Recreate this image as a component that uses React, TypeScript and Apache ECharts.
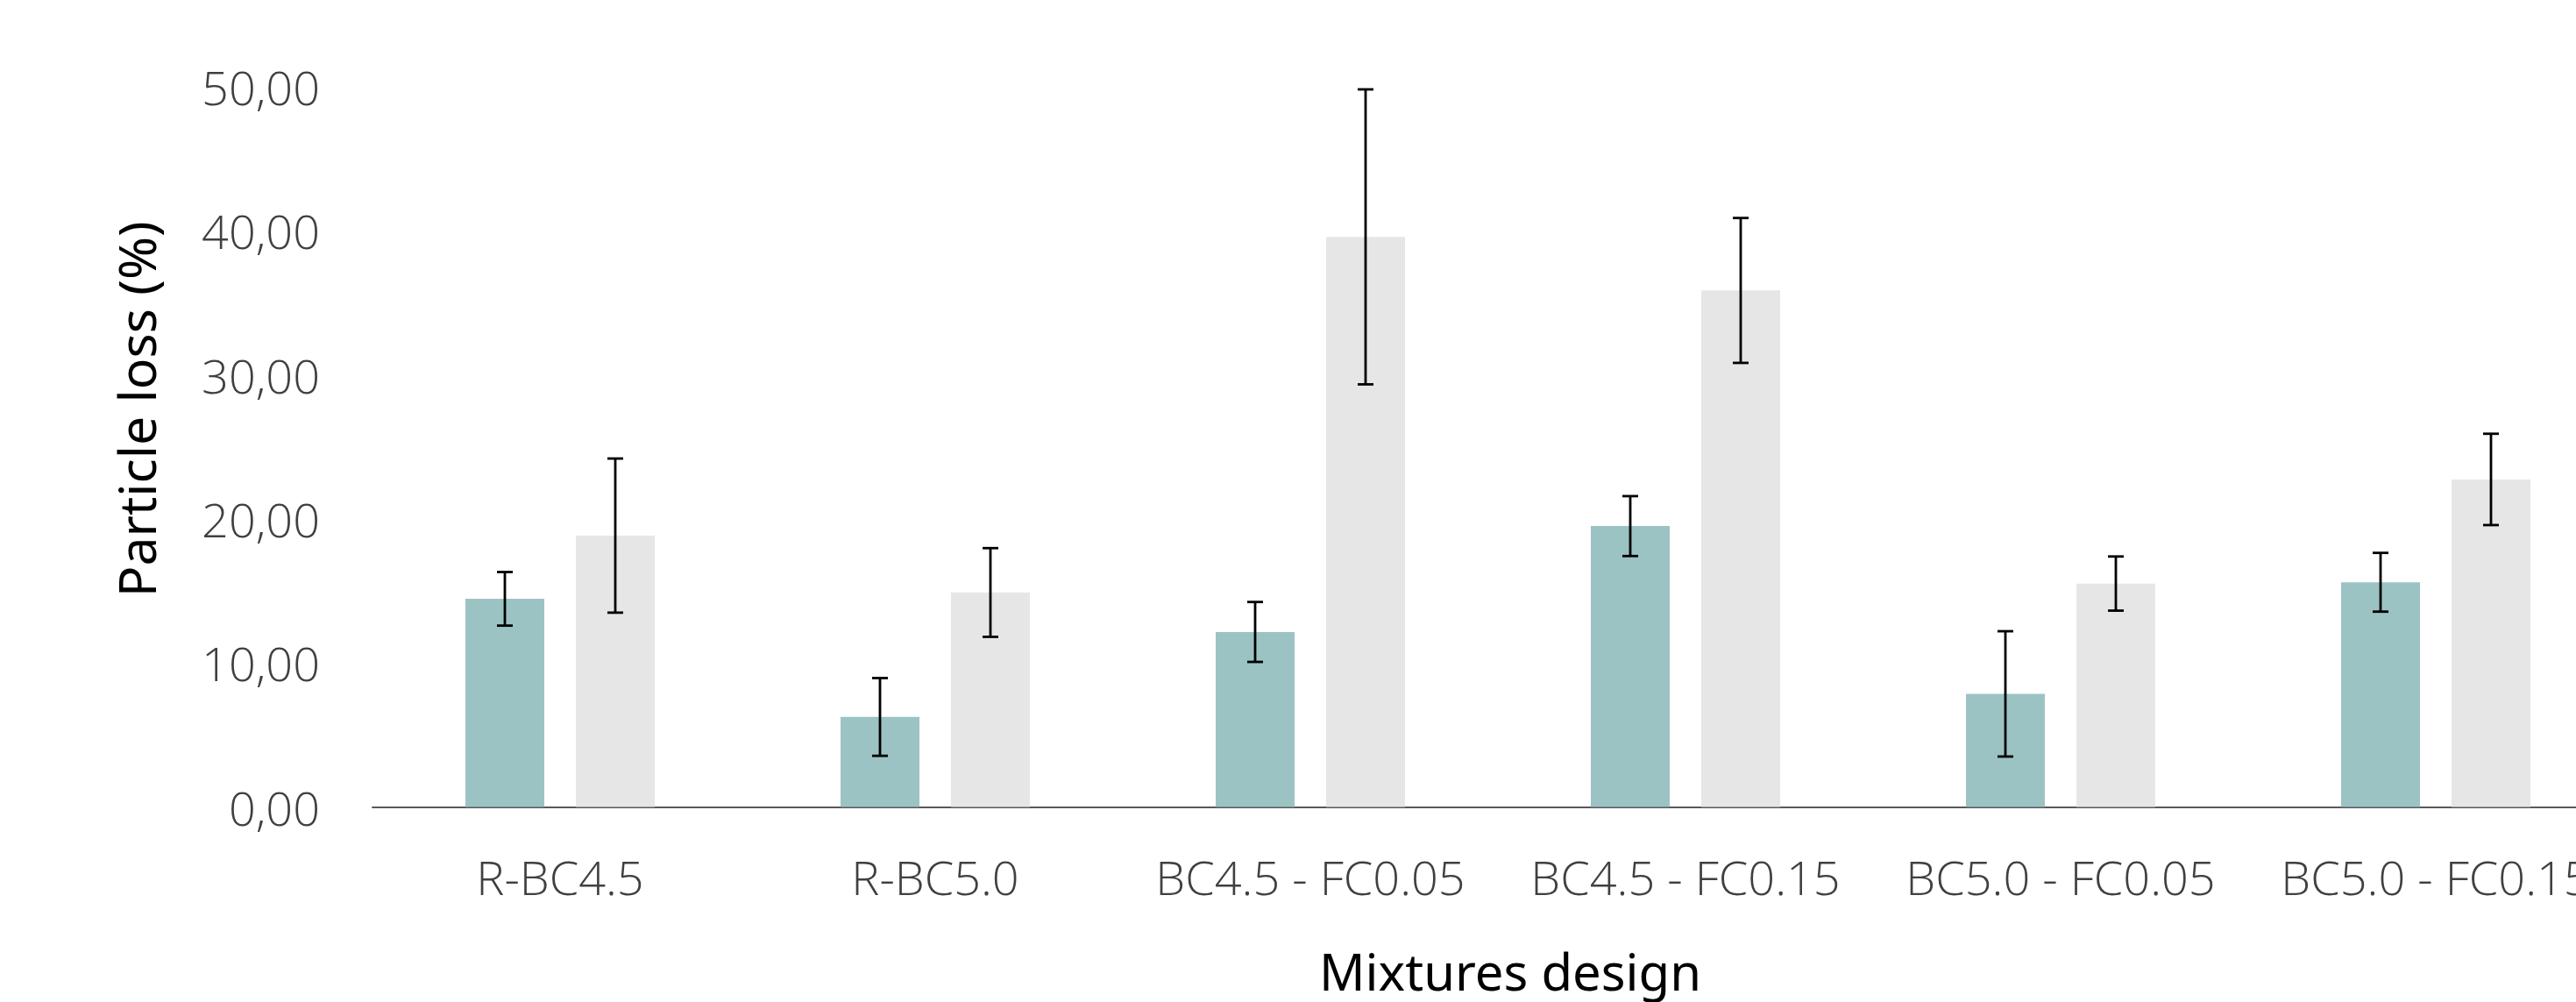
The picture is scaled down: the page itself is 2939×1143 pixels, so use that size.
import React, { useEffect, useRef } from "react";
import * as echarts from "echarts";

const categories = [
  "R-BC4.5",
  "R-BC5.0",
  "BC4.5 - FC0.05",
  "BC4.5 - FC0.15",
  "BC5.0 - FC0.05",
  "BC5.0 - FC0.15",
];
const seriesA = [14.45, 6.25, 12.15, 19.5, 7.85, 15.6];
const errA = [1.86, 2.7, 2.08, 2.08, 4.35, 2.04];
const seriesB = [18.84, 14.89, 39.58, 35.86, 15.51, 22.74];
const errB = [5.35, 3.08, 10.24, 5.03, 1.88, 3.17];
const yTicks = { min: 0, max: 50, interval: 10 };

const BAR_W = 90;
const BAR_GAP = 36;
const OFFSET = (BAR_W + BAR_GAP) / 2;
const LABEL_FONT = "'Open Sans', 'Noto Sans', sans-serif";

function errorSeries(values: number[], errs: number[], dir: number) {
  return {
    type: "custom",
    z: 10,
    data: values.map((v, i) => [i, v, errs[i]]),
    encode: { x: 0, y: 1 },
    renderItem: (params: any, api: any) => {
      const i = api.value(0);
      const v = api.value(1);
      const e = api.value(2);
      const hi = api.coord([i, v + e]);
      const lo = api.coord([i, v - e]);
      const x = hi[0] + dir * OFFSET;
      const cap = 9;
      const style = { stroke: "#000000", lineWidth: 2.8 };
      return {
        type: "group",
        children: [
          { type: "line", shape: { x1: x, y1: hi[1], x2: x, y2: lo[1] }, style },
          { type: "line", shape: { x1: x - cap, y1: hi[1], x2: x + cap, y2: hi[1] }, style },
          { type: "line", shape: { x1: x - cap, y1: lo[1], x2: x + cap, y2: lo[1] }, style },
        ],
      };
    },
  };
}

export default function App() {
  const ref = useRef<HTMLDivElement>(null);
  useEffect(() => {
    if (!ref.current) return;
    const chart = echarts.init(ref.current, undefined, { renderer: "svg" });
    chart.setOption({
      animation: false,
      backgroundColor: "#ffffff",
      grid: { left: 425, width: 2568, top: 99, bottom: 222.5, containLabel: false },
      xAxis: {
        type: "category",
        data: categories,
        name: "Mixtures design",
        nameLocation: "middle",
        nameGap: 158,
        nameTextStyle: {
          fontFamily: "'Noto Sans', sans-serif",
          fontSize: 58,
          color: "#000000",
          padding: [0, 0, 0, 28],
        },
        axisLine: { show: true, lineStyle: { color: "#595959", width: 2 } },
        axisTick: { show: false },
        axisLabel: {
          margin: 52,
          fontSize: 54,
          fontWeight: 300,
          fontFamily: LABEL_FONT,
          color: "#404040",
          interval: 0,
        },
        splitLine: { show: false },
      },
      yAxis: {
        type: "value",
        min: yTicks.min,
        max: yTicks.max,
        interval: yTicks.interval,
        name: "Particle loss (%)",
        nameLocation: "middle",
        nameRotate: 90,
        nameGap: 241,
        nameTextStyle: {
          fontFamily: "'Noto Sans', sans-serif",
          fontSize: 59,
          color: "#000000",
          padding: [0, 0, 0, 86],
        },
        axisLine: { show: false },
        axisTick: { show: false },
        splitLine: { show: false },
        axisLabel: {
          margin: 60,
          fontSize: 54,
          fontWeight: 300,
          fontFamily: LABEL_FONT,
          color: "#404040",
          formatter: (v: number) => v.toFixed(2).replace(".", ","),
        },
      },
      series: [
        {
          type: "bar",
          data: seriesA,
          barWidth: BAR_W,
          barGap: (BAR_GAP / BAR_W) * 100 + "%",
          itemStyle: { color: "#9BC3C4" },
        },
        {
          type: "bar",
          data: seriesB,
          barWidth: BAR_W,
          barGap: (BAR_GAP / BAR_W) * 100 + "%",
          itemStyle: { color: "#E6E6E6" },
        },
        errorSeries(seriesA, errA, -1),
        errorSeries(seriesB, errB, 1),
      ],
    });
    return () => chart.dispose();
  }, []);
  return (
    <div
      style={{
        position: "absolute",
        left: 0,
        top: 0,
        width: 2939,
        height: 1143,
        overflow: "hidden",
        background: "#ffffff",
      }}
    >
      <div ref={ref} style={{ width: 3100, height: 1143 }} />
    </div>
  );
}
